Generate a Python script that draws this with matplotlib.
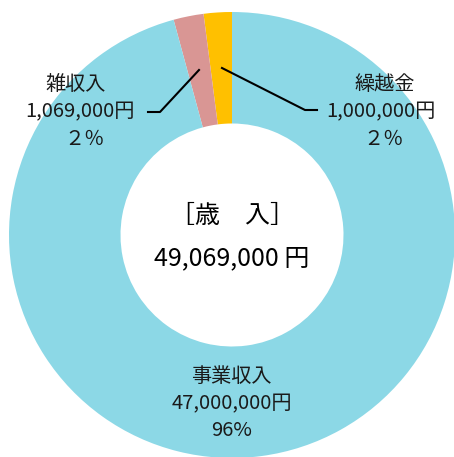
import matplotlib.pyplot as plt

plt.rcParams['font.family'] = ['Noto Sans CJK JP', 'DejaVu Sans']

# data (counter-clockwise from the top)
labels = ['繰越金', '雑収入', '事業収入']
amounts = [1000000, 1069000, 47000000]
amount_text = ['1,000,000円', '1,069,000円', '47,000,000円']
pct_text = ['２％', '２％', '96%']
colors = ['#FFC000', '#D99694', '#8CD8E6']
total_title = '［歳　入］'
total_text = '49,069,000 円'

W, H = 454, 457
cx, cy, R = 232, 235, 223

fig = plt.figure(figsize=(W / 100, H / 100), dpi=100)
ax = fig.add_axes([0, 0, 1, 1])
ax.pie(amounts, colors=colors, startangle=90, counterclock=True,
       radius=1.0, wedgeprops=dict(width=0.5, linewidth=0))
ax.set_aspect('equal')
ax.set_xlim(-cx / R, (W - cx) / R)
ax.set_ylim(-(H - cy) / R, cy / R)
ax.axis('off')


def px(x, y):
    # pixel position in the picture -> data coords
    return (x - cx) / R, (cy - y) / R


fs = 14.5
tc = '#1a1a1a'
# 雑収入
ax.text(*px(76, 84), labels[1], ha='center', va='center', fontsize=fs, color=tc)
ax.text(*px(80, 112), amount_text[1], ha='center', va='center', fontsize=fs, color=tc)
ax.text(*px(84, 139), pct_text[1], ha='center', va='center', fontsize=fs, color=tc)
ax.plot(*zip(px(148, 112), px(160, 112), px(199, 70)), color='black', lw=1.5)

# 繰越金
ax.text(*px(385, 84), labels[0], ha='center', va='center', fontsize=fs, color=tc)
ax.text(*px(381, 112), amount_text[0], ha='center', va='center', fontsize=fs, color=tc)
ax.text(*px(383, 139), pct_text[0], ha='center', va='center', fontsize=fs, color=tc)
ax.plot(*zip(px(222, 68), px(305, 110), px(317, 110)), color='black', lw=1.5)

# 事業収入
ax.text(*px(231, 376), labels[2], ha='center', va='center', fontsize=fs, color=tc)
ax.text(*px(232, 404), amount_text[2], ha='center', va='center', fontsize=fs, color=tc)
ax.text(*px(232, 431), pct_text[2], ha='center', va='center', fontsize=fs, color=tc)

# center
ax.text(*px(232, 216), total_title, ha='center', va='center', fontsize=18, color='black')
ax.text(*px(232, 258), total_text, ha='center', va='center', fontsize=18, color='black')

fig.savefig('out.png', dpi=100)
